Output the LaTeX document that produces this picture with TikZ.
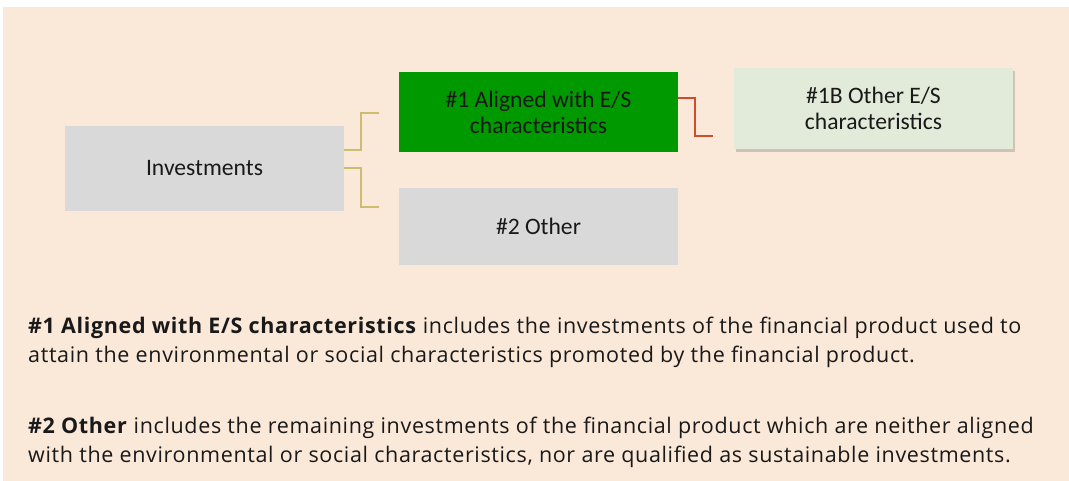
\documentclass[tikz,border=0pt]{standalone}
\usepackage{fontspec}
\setmainfont{Open Sans}[LetterSpace=3]
\newfontfamily\boxfont{Carlito}
\usetikzlibrary{calc,shadows}
\definecolor{bgpeach}{HTML}{FAE8D8}
\definecolor{boxgrey}{HTML}{D9D9D9}
\definecolor{esgreen}{HTML}{009900}
\definecolor{palegreen}{HTML}{E2EBDA}
\definecolor{khaki}{HTML}{CDBD72}
\definecolor{linkred}{HTML}{D24B2C}

\begin{document}
\begin{tikzpicture}[x=1pt,y=-1pt,
        boxnode/.style={rectangle, inner sep=0pt, minimum width=279pt, align=center, font=\boxfont\fontsize{23.6}{26}\selectfont, text=black!90},
        elbow/.style={line width=2pt, draw=khaki},
        notetext/.style={anchor=north west, align=left, inner sep=0pt, font=\fontsize{21.5}{28.5}\selectfont, text=black!90}
        ]
    \useasboundingbox (0,0) rectangle (1069,481);
    \fill[bgpeach] (3,7) rectangle (1069,481);

    \node[boxnode, fill=boxgrey, minimum height=85pt] (inv) at (204.5,168.5) {Investments};
    \node[boxnode, fill=esgreen, minimum height=80pt] (al) at (538.5,112) {\#1 Aligned with E/S\\characteristics};
    \node[boxnode, fill=boxgrey, minimum height=77pt] (oth) at (538.5,226.5) {\#2 Other};
    \node[boxnode, fill=palegreen, minimum height=81pt,
          drop shadow={opacity=0.35, shadow xshift=2pt, shadow yshift=-3pt}] (es) at (873.5,108.5) {\#1B Other E/S\\characteristics};

    \coordinate (alin) at (379,113);
    \coordinate (othin) at (379,207);
    \coordinate (esin) at (713,136);

    \draw[elbow] ($(inv.east)+(0,-18.5)$) -- ++(17,0) |- (alin);
    \draw[elbow] (inv.east) -- ++(17,0) |- (othin);
    \draw[elbow, draw=linkred] ($(al.east)+(0,-14)$) -- ++(17,0) |- (esin);

    \node[notetext] (note1) at (28,317) {\textbf{\#1 Aligned with E/S characteristics} includes the investments of the financial product used to\\attain the environmental or social characteristics promoted by the financial product.};
    \node[notetext] (note2) at (28,417) {\textbf{\#2 Other} includes the remaining investments of the financial product which are neither aligned\\with the environmental or social characteristics, nor are qualified as sustainable investments.};
\end{tikzpicture}
\end{document}
